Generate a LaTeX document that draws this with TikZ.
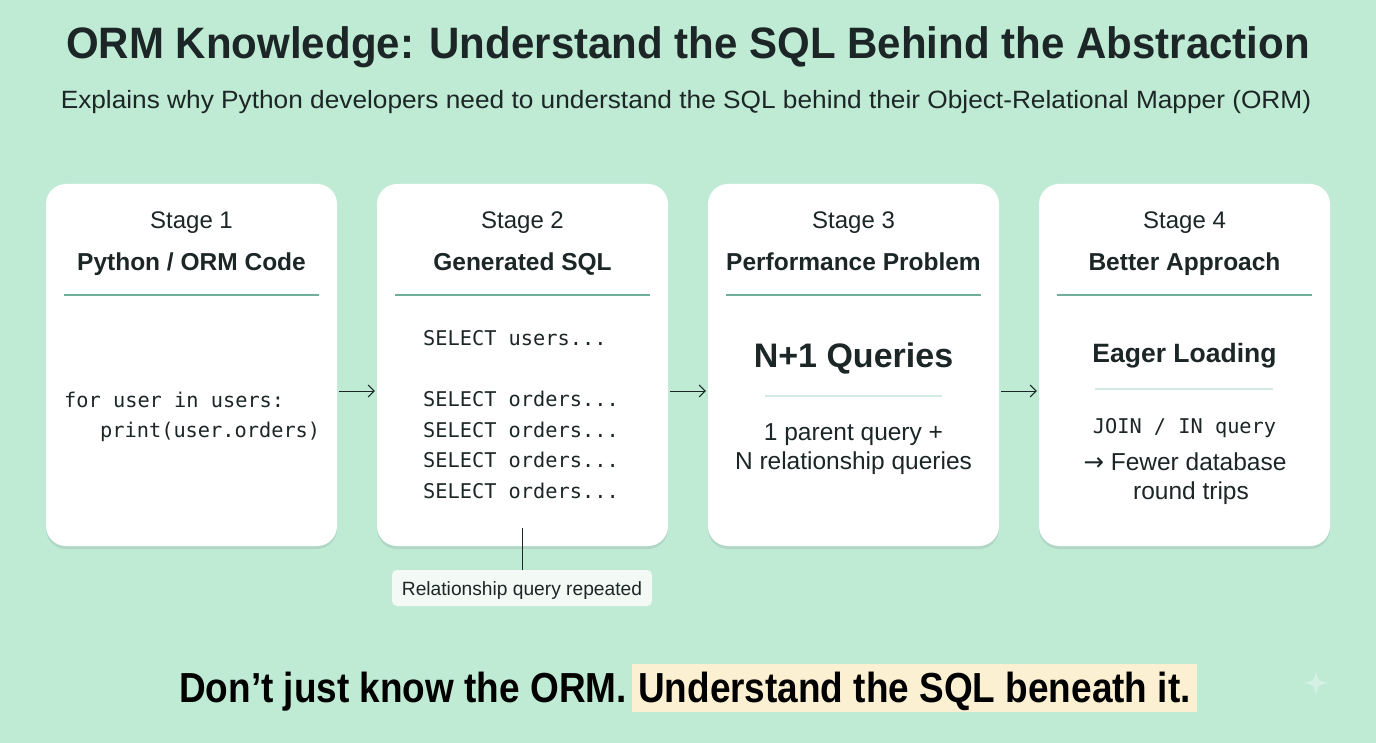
\documentclass[tikz,border=0pt]{standalone}
\usepackage{fontspec}
\setmainfont{Liberation Sans}
\setmonofont{DejaVu Sans Mono}
\newfontfamily\titlefont[FakeStretch=0.955]{Liberation Sans}
\newfontfamily\subfont[FakeStretch=1.05]{Liberation Sans}
\newfontfamily\condfont[FakeStretch=0.88]{Liberation Sans}
\newfontfamily\arrowfont{DejaVu Sans}
\usetikzlibrary{arrows.meta,shadows}
\definecolor{bg}{HTML}{BFEBD5}
\definecolor{ink}{HTML}{1C2626}
\definecolor{divc}{HTML}{6FAE9B}
\definecolor{divl}{HTML}{D3EAE0}
\definecolor{hl}{HTML}{FCF0D2}
\definecolor{calloutbg}{HTML}{F3FAF6}
\tikzset{
  card/.style={fill=white, rounded corners=20pt, minimum width=291pt, minimum height=362pt, inner sep=0pt,
    drop shadow={shadow xshift=0pt, shadow yshift=-3pt, opacity=0.12, fill=black!70}},
  stagelbl/.style={font=\fontsize{24}{28}\selectfont, text=ink, inner sep=0pt, anchor=base},
  stagehd/.style={font=\fontsize{24.5}{29}\selectfont\bfseries, text=ink, inner sep=0pt, anchor=base},
  codetxt/.style={font=\ttfamily\fontsize{20.3}{30.5}\selectfont, text=ink, inner sep=0pt, anchor=base west},
  bodytxt/.style={font=\fontsize{24.5}{31}\selectfont, text=ink, inner sep=0pt, anchor=base},
  divider/.style={draw=divc, line width=1.3pt},
  sdivider/.style={draw=divl, line width=1.3pt},
  arr/.style={draw=ink, line width=1pt, -{Straight Barb[length=6pt,width=12pt]}},
}
\begin{document}
\begin{tikzpicture}[x=1pt,y=-1pt]
\fill[bg] (0,0) rectangle (1376,743);
\useasboundingbox (0,0) rectangle (1376,743);

% title
\node[font=\titlefont\fontsize{44}{50}\selectfont\bfseries, text=ink, inner sep=0pt, anchor=base] (title) at (688,59) {ORM Knowledge: Understand the SQL Behind the Abstraction};
\node[font=\subfont\fontsize{25}{30}\selectfont, text=ink, inner sep=0pt, anchor=base] (subtitle) at (686,109) {Explains why Python developers need to understand the SQL behind their Object-Relational Mapper (ORM)};

% cards
\node[card] (card1) at (191.5,365) {};
\node[card] (card2) at (522.5,365) {};
\node[card] (card3) at (853.5,365) {};
\node[card] (card4) at (1184.5,365) {};

% headers
\node[stagelbl] (s1) at (191.5,229) {Stage 1};
\node[stagehd] (h1) at (191.5,271) {Python / ORM Code};
\node[stagelbl] (s2) at (522.5,229) {Stage 2};
\node[stagehd] (h2) at (522.5,271) {Generated SQL};
\node[stagelbl] (s3) at (853.5,229) {Stage 3};
\node[stagehd] (h3) at (853.5,271) {Performance Problem};
\node[stagelbl] (s4) at (1184.5,229) {Stage 4};
\node[stagehd] (h4) at (1184.5,271) {Better Approach};

\draw[divider] (64,295) -- (319,295);
\draw[divider] (395,295) -- (650,295);
\draw[divider] (726,295) -- (981,295);
\draw[divider] (1057,295) -- (1312,295);

% card 1 content
\node[codetxt] (code1a) at (64,407) {for user in users:};
\node[codetxt] (code1b) at (100,437) {print(user.orders)};

% card 2 content
\node[codetxt] (q0) at (423,345) {SELECT users...};
\node[codetxt] (q1) at (423,406) {SELECT orders...};
\node[codetxt] (q2) at (423,437) {SELECT orders...};
\node[codetxt] (q3) at (423,467) {SELECT orders...};
\node[codetxt] (q4) at (423,498) {SELECT orders...};

% card 3 content
\node[font=\fontsize{34}{38}\selectfont\bfseries, text=ink, inner sep=0pt, anchor=base] (n1) at (853.5,367) {N+1 Queries};
\draw[sdivider] (765,396) -- (942,396);
\node[bodytxt] (b3a) at (853.5,440) {1 parent query +};
\node[bodytxt] (b3b) at (853.5,469) {N relationship queries};

% card 4 content
\node[font=\fontsize{26.5}{31}\selectfont\bfseries, text=ink, inner sep=0pt, anchor=base] (eager) at (1184.5,362) {Eager Loading};
\draw[sdivider] (1095,389) -- (1273,389);
\node[codetxt, anchor=base] (join) at (1184.5,433) {JOIN / IN query};
\node[bodytxt] (b4a) at (1185,470) {{\arrowfont →} Fewer database};
\node[bodytxt] (b4b) at (1191,499) {round trips};

% arrows
\draw[arr] ([shift={(2pt,-26pt)}]card1.east) -- ([shift={(-2pt,-26pt)}]card2.west);
\draw[arr] ([shift={(2pt,-26pt)}]card2.east) -- ([shift={(-2pt,-26pt)}]card3.west);
\draw[arr] ([shift={(2pt,-26pt)}]card3.east) -- ([shift={(-2pt,-26pt)}]card4.west);

% callout
\node[fill=calloutbg, rounded corners=5pt, minimum width=260pt, minimum height=36pt, inner sep=0pt,
      font=\fontsize{19.2}{22}\selectfont, text=ink, text height=16pt, text depth=2pt] (callout) at (522,588) {Relationship query repeated};
\coordinate (cstart) at (522,528);
\draw[draw=ink, line width=1pt] (cstart) -- (callout.north);

% bottom line
\node[fill=hl, inner xsep=6pt, inner ysep=0pt, minimum height=48pt, anchor=west,
      font=\condfont\fontsize{42}{46}\selectfont\bfseries, text=black, text height=33pt, text depth=5pt] (hlt) at (632,688) {Understand the SQL beneath it.};
\node[font=\condfont\fontsize{42}{46}\selectfont\bfseries, text=black, inner sep=0pt, anchor=base east] (bt) at ([xshift=-5pt]hlt.base west) {Don’t just know the ORM.};

% faint sparkle
\fill[white, opacity=0.35] (1316,671) .. controls (1318,681) .. (1328,683) .. controls (1318,685) .. (1316,695) .. controls (1314,685) .. (1304,683) .. controls (1314,681) .. cycle;
\end{tikzpicture}
\end{document}
